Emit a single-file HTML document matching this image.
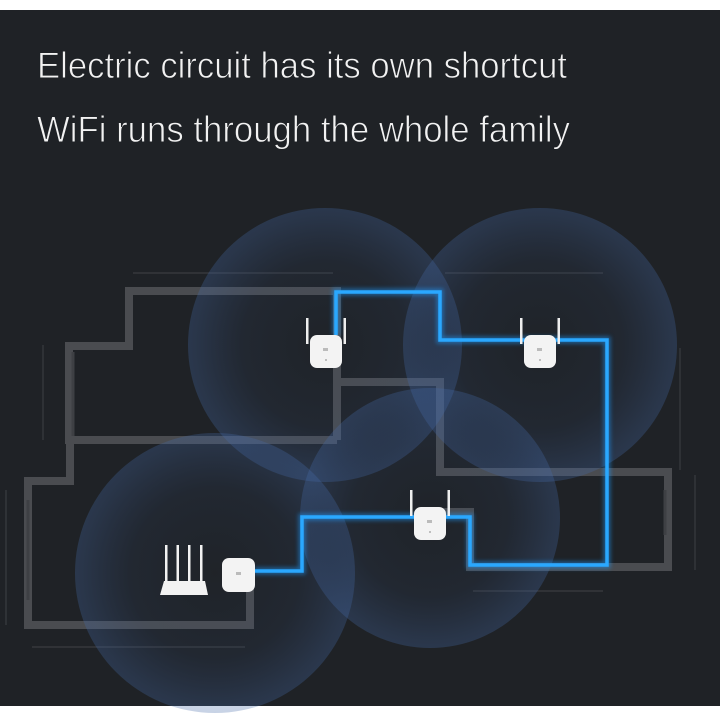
<!DOCTYPE html>
<html><head><meta charset="utf-8"><style>
html,body{margin:0;padding:0;background:#fff;}
svg{display:block;}
</style></head><body>
<svg width="720" height="720" viewBox="0 0 720 720" xmlns="http://www.w3.org/2000/svg">
<defs>
<radialGradient id="cg" cx="0.5" cy="0.5" r="0.5">
<stop offset="0" stop-color="#3a5c98" stop-opacity="0.02"/>
<stop offset="0.6" stop-color="#3a5c98" stop-opacity="0.1"/>
<stop offset="0.92" stop-color="#456aa8" stop-opacity="0.26"/>
<stop offset="1" stop-color="#456aa8" stop-opacity="0.3"/>
</radialGradient>
<filter id="glow" x="-10%" y="-10%" width="120%" height="120%"><feGaussianBlur stdDeviation="2"/></filter>
<g id="ad">
<rect x="-4" y="-17" width="2.5" height="26" fill="#eee"/>
<rect x="33.5" y="-17" width="2.5" height="26" fill="#eee"/>
<rect x="0" y="0" width="32" height="33" rx="7" fill="#f3f3f3"/>
<rect x="13" y="13" width="5" height="3" fill="#bbb"/>
<circle cx="16" cy="25" r="0.9" fill="#999"/>
</g>
</defs>
<rect x="0" y="10" width="720" height="696" fill="#1f2226"/>
<g font-family="Liberation Sans, sans-serif" font-size="37" fill="#f2f2f2" stroke="#1f2226" stroke-width="0.9">
<text x="37" y="78" textLength="530" lengthAdjust="spacingAndGlyphs">Electric circuit has its own shortcut</text>
<text x="37" y="142" textLength="533" lengthAdjust="spacingAndGlyphs">WiFi runs through the whole family</text>
</g>

<g stroke="#3a3c40" stroke-width="1.2" fill="none">
<line x1="133" y1="273" x2="333" y2="273"/>
<line x1="43" y1="345" x2="43" y2="440"/>
<line x1="6" y1="490" x2="6" y2="625"/>
<line x1="32" y1="647" x2="245" y2="647"/>
<line x1="445" y1="273" x2="603" y2="273"/>
<line x1="680" y1="348" x2="680" y2="470"/>
<line x1="695" y1="475" x2="695" y2="570"/>
<line x1="473" y1="591" x2="603" y2="591"/>
</g>
<g stroke="#4a4c50" stroke-width="8" fill="none" stroke-linejoin="miter">
<polyline points="337,440 337,291 129,291 129,346 69,346 69,440 337,440"/>
<polyline points="70,440 70,481 28,481 28,625 250,625 250,588"/>
<polyline points="337,382 440,382 440,472 608,472"/>
<polyline points="608,472 668,472 668,567 470,567 470,512 440,512"/>
</g>
<g stroke="#3e4044" stroke-width="3" fill="none">
<line x1="73" y1="352" x2="73" y2="436"/>
<line x1="28" y1="500" x2="28" y2="600"/>
<line x1="665" y1="490" x2="665" y2="535"/>
</g>

<circle cx="325" cy="345" r="137" fill="url(#cg)"/>
<circle cx="540" cy="345" r="137" fill="url(#cg)"/>
<circle cx="430" cy="518" r="130" fill="url(#cg)"/>
<circle cx="215" cy="573" r="140" fill="url(#cg)"/>

<polyline points="254,571 302,571 302,517 470,517 470,565 607,565 607,340 440,340 440,292 336,292 336,335" fill="none" stroke="#1e9bff" stroke-width="7" opacity="0.5" filter="url(#glow)"/>
<polyline points="254,571 302,571 302,517 470,517 470,565 607,565 607,340 440,340 440,292 336,292 336,335" fill="none" stroke="#2aa8ff" stroke-width="3.5"/>

<use href="#ad" x="310" y="335"/>
<use href="#ad" x="524" y="335"/>
<use href="#ad" x="414" y="507"/>
<g>
<rect x="222" y="558" width="33" height="34" rx="7" fill="#f3f3f3"/>
<rect x="236" y="572" width="5" height="3" fill="#bbb"/>
</g>
<g fill="#f2f2f2">
<rect x="165" y="545" width="2.5" height="38"/>
<rect x="176.5" y="545" width="2.5" height="38"/>
<rect x="188" y="545" width="2.5" height="38"/>
<rect x="200" y="545" width="2.5" height="38"/>
<polygon points="164,581 205,581 208,595 160,595"/>
</g>
</svg>
</body></html>
